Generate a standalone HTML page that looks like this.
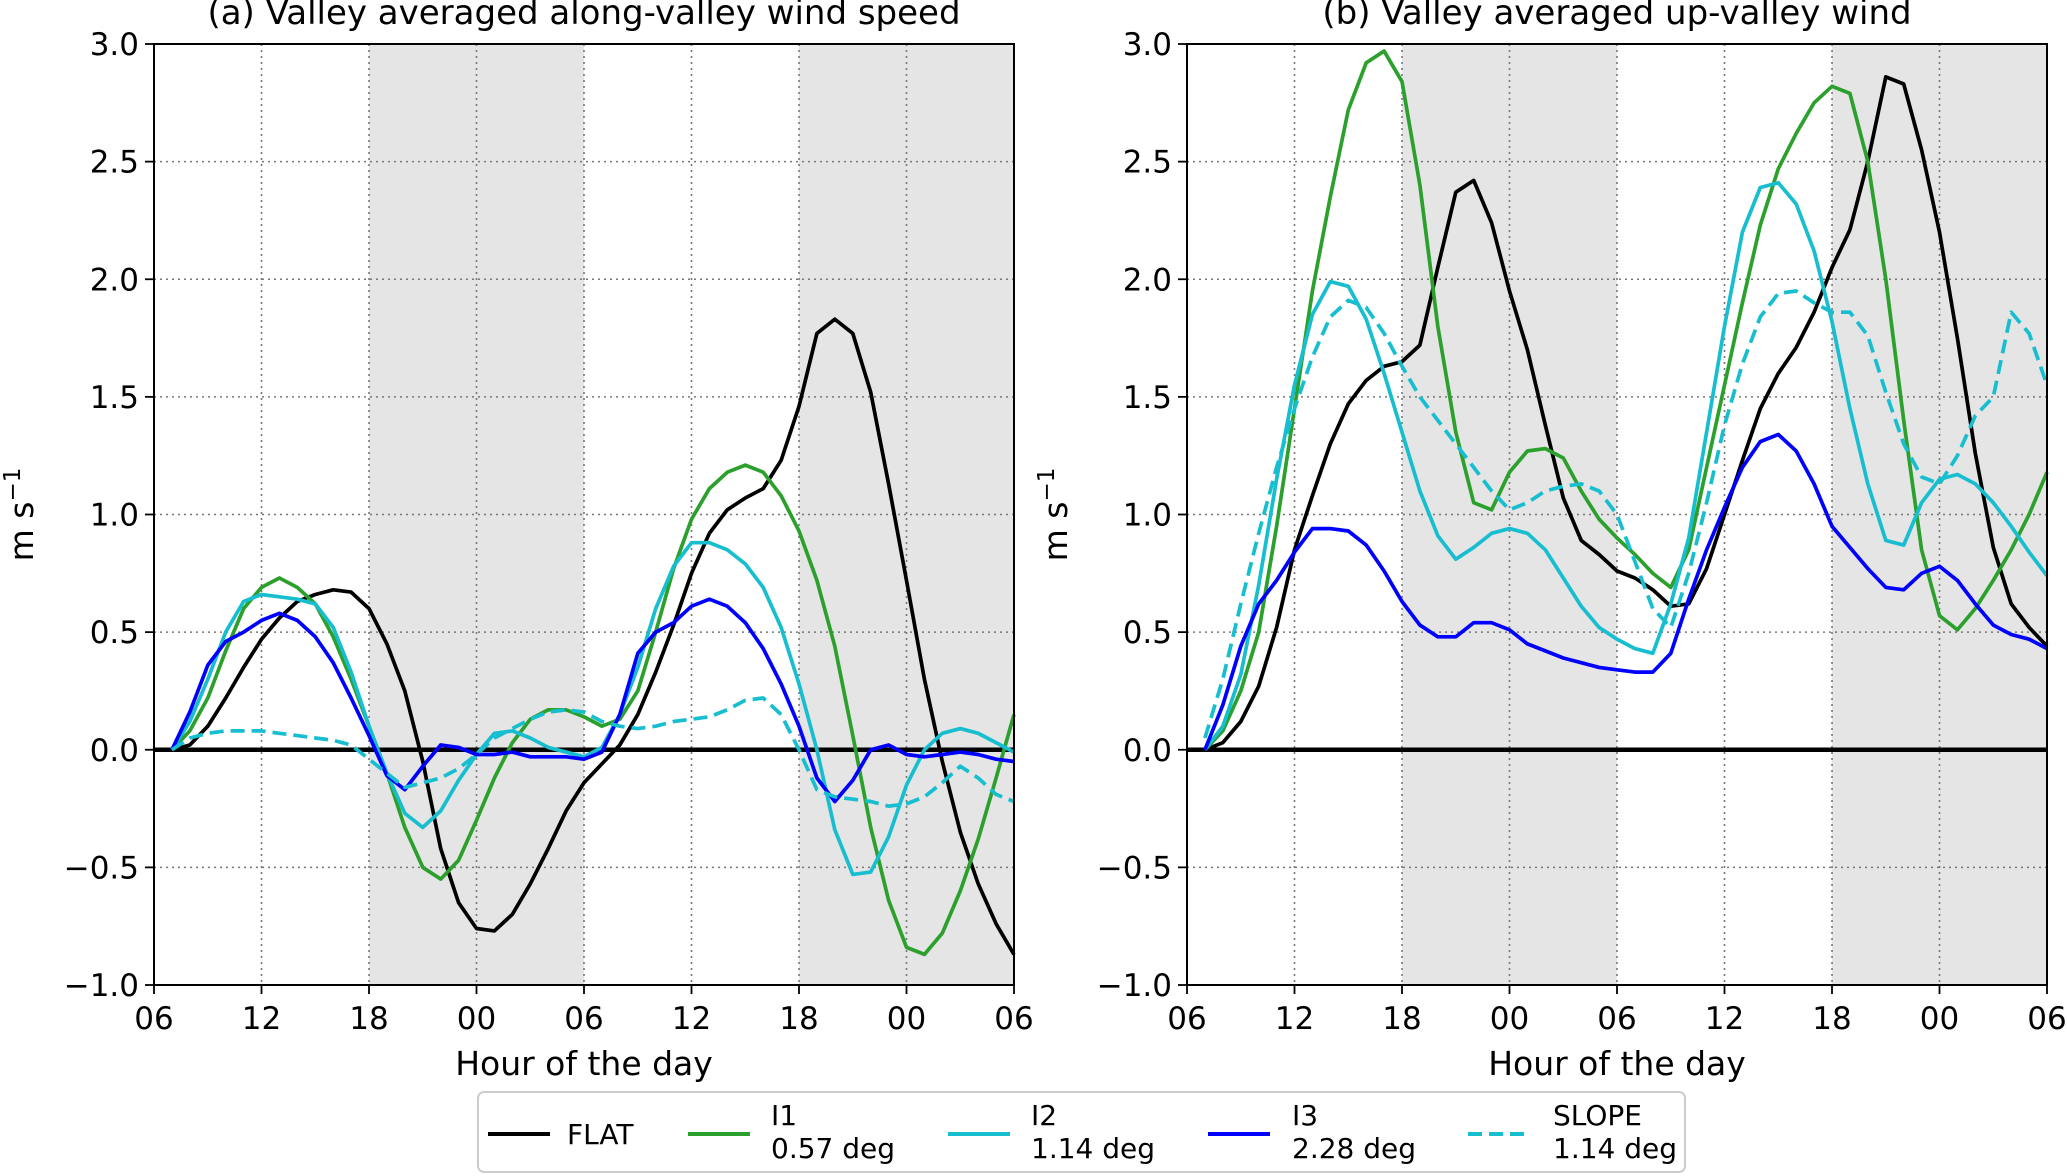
<!DOCTYPE html>
<html><head><meta charset="utf-8"><style>
html,body{margin:0;padding:0;background:#fff;}
svg{display:block;font-family:"DejaVu Sans","Liberation Sans",sans-serif;}
</style></head><body>
<svg id="chart" width="2067" height="1176" viewBox="0 0 2067 1176" xmlns="http://www.w3.org/2000/svg">
<g id="panelA"></g>
<g id="panelB"></g>
<g id="legend"></g>
</svg>
<script>
const hours = [1,2,3,4,5,6,7,8,9,10,11,12,13,14,15,16,17,18,19,20,21,22,23,24,25,26,27,28,29,30,31,32,33,34,35,36,37,38,39,40,41,42,43,44,45,46,47,48];
const xTickLabels = ["06","12","18","00","06","12","18","00","06"];
const yTickLabels = ["\u22121.0","\u22120.5","0.0","0.5","1.0","1.5","2.0","2.5","3.0"];
const yTickValues = [-1,-0.5,0,0.5,1,1.5,2,2.5,3];
const nightSpans = [[12,24],[36,48]];
const seriesNames = ["FLAT","I1","I2","I3","SLOPE"];
const seriesSub = ["","0.57 deg","1.14 deg","2.28 deg","1.14 deg"];

const aFLAT = [0,0.02,0.1,0.22,0.35,0.47,0.56,0.63,0.66,0.68,0.67,0.6,0.45,0.25,-0.05,-0.42,-0.65,-0.76,-0.77,-0.7,-0.57,-0.42,-0.26,-0.14,-0.06,0.02,0.15,0.33,0.53,0.75,0.92,1.02,1.07,1.11,1.23,1.46,1.77,1.83,1.77,1.52,1.13,0.72,0.3,-0.05,-0.35,-0.57,-0.74,-0.87];
const aI1 = [0,0.08,0.22,0.42,0.6,0.69,0.73,0.69,0.62,0.48,0.3,0.1,-0.1,-0.33,-0.5,-0.55,-0.47,-0.3,-0.12,0.03,0.13,0.17,0.17,0.14,0.1,0.13,0.25,0.5,0.77,0.98,1.11,1.18,1.21,1.18,1.08,0.93,0.72,0.44,0.06,-0.33,-0.64,-0.84,-0.87,-0.78,-0.6,-0.38,-0.12,0.15];
const aI2 = [0,0.12,0.3,0.5,0.63,0.66,0.65,0.64,0.62,0.52,0.33,0.1,-0.1,-0.27,-0.33,-0.26,-0.13,-0.02,0.07,0.08,0.05,0.01,-0.01,-0.03,0.01,0.15,0.35,0.6,0.78,0.88,0.88,0.85,0.79,0.69,0.52,0.28,0.0,-0.34,-0.53,-0.52,-0.37,-0.15,0.0,0.07,0.09,0.07,0.03,-0.01];
const aI3 = [0,0.16,0.36,0.46,0.5,0.55,0.58,0.55,0.48,0.37,0.22,0.06,-0.11,-0.17,-0.07,0.02,0.01,-0.02,-0.02,-0.01,-0.03,-0.03,-0.03,-0.04,-0.01,0.15,0.41,0.5,0.54,0.61,0.64,0.61,0.54,0.43,0.28,0.1,-0.12,-0.22,-0.13,0.0,0.02,-0.02,-0.03,-0.02,-0.01,-0.02,-0.04,-0.05];
const aSLOPE = [0,0.05,0.07,0.08,0.08,0.08,0.07,0.06,0.05,0.04,0.02,-0.04,-0.1,-0.16,-0.14,-0.12,-0.08,-0.02,0.05,0.09,0.13,0.16,0.17,0.16,0.12,0.1,0.09,0.1,0.12,0.13,0.14,0.17,0.21,0.22,0.15,0.0,-0.17,-0.2,-0.21,-0.22,-0.24,-0.23,-0.2,-0.14,-0.07,-0.12,-0.19,-0.22];

const bFLAT = [0,0.03,0.12,0.27,0.52,0.85,1.08,1.3,1.47,1.57,1.63,1.65,1.72,2.05,2.37,2.42,2.24,1.95,1.7,1.38,1.07,0.89,0.83,0.76,0.73,0.68,0.61,0.62,0.77,1.0,1.23,1.45,1.6,1.71,1.86,2.05,2.21,2.5,2.86,2.83,2.55,2.2,1.75,1.26,0.86,0.62,0.52,0.44];
const bI1 = [0,0.08,0.25,0.5,0.95,1.45,1.95,2.35,2.72,2.92,2.97,2.84,2.4,1.8,1.35,1.05,1.02,1.18,1.27,1.28,1.24,1.1,0.98,0.9,0.83,0.75,0.69,0.85,1.2,1.55,1.9,2.23,2.47,2.62,2.75,2.82,2.79,2.5,2.0,1.4,0.85,0.57,0.51,0.6,0.72,0.85,1.0,1.18];
const bI2 = [0,0.1,0.32,0.7,1.15,1.55,1.85,1.99,1.97,1.83,1.6,1.35,1.1,0.91,0.81,0.86,0.92,0.94,0.92,0.85,0.73,0.61,0.52,0.47,0.43,0.41,0.62,0.9,1.35,1.8,2.2,2.39,2.41,2.32,2.12,1.82,1.45,1.13,0.89,0.87,1.05,1.15,1.17,1.13,1.05,0.95,0.84,0.74];
const bI3 = [0,0.19,0.44,0.62,0.72,0.84,0.94,0.94,0.93,0.87,0.76,0.63,0.53,0.48,0.48,0.54,0.54,0.51,0.45,0.42,0.39,0.37,0.35,0.34,0.33,0.33,0.41,0.64,0.85,1.03,1.2,1.31,1.34,1.27,1.13,0.95,0.86,0.77,0.69,0.68,0.75,0.78,0.72,0.62,0.53,0.49,0.47,0.43];
const bSLOPE = [0.05,0.3,0.62,0.92,1.2,1.45,1.67,1.84,1.91,1.88,1.77,1.63,1.5,1.4,1.3,1.2,1.1,1.02,1.05,1.1,1.12,1.13,1.1,1.0,0.8,0.6,0.52,0.75,1.05,1.38,1.64,1.84,1.94,1.95,1.9,1.86,1.86,1.76,1.52,1.3,1.16,1.13,1.25,1.42,1.5,1.86,1.77,1.55];

const colors = ["#000000","#2ca02c","#17becf","#0000ff","#17becf"];
const dashes = ["","","","","14,7"];
const NS = "http://www.w3.org/2000/svg";
function mk(tag, attrs, parent){const e=document.createElementNS(NS,tag);for(const k in attrs)e.setAttribute(k,attrs[k]);parent.appendChild(e);return e;}

function drawPanel(g, x0, x1, y0, y1, title, series, key, ylabX){
  const xs = h => x0 + (h/48)*(x1-x0);
  const ys = v => y1 + (v+1)/4*(y0-y1);
  nightSpans.forEach((s,i)=>{
    const r = mk('rect',{x:xs(s[0]),y:y0,width:xs(s[1])-xs(s[0]),height:y1-y0,fill:'#e5e5e5'},g);
    
    
  });
  xTickLabels.forEach((lab,i)=>{
    const x = xs(i*6);
    if(i>0 && i<8){ const l=mk('line',{x1:x,x2:x,y1:y0,y2:y1,stroke:'#777','stroke-width':1.6,'stroke-dasharray':'2,4'},g);
        }
    mk('line',{x1:x,x2:x,y1:y1,y2:y1+9,stroke:'#000','stroke-width':1.8},g);
    const t=mk('text',{x:x,y:y1+44,'font-size':31,'text-anchor':'middle',fill:'#000'},g); t.textContent=lab;
     
  });
  yTickValues.forEach((v,i)=>{
    const y = ys(v);
    if(i>0 && i<8){ const l=mk('line',{x1:x0,x2:x1,y1:y,y2:y,stroke:'#777','stroke-width':1.6,'stroke-dasharray':'2,4'},g);
        }
    mk('line',{x1:x0-9,x2:x0,y1:y,y2:y,stroke:'#000','stroke-width':1.8},g);
    const t=mk('text',{x:x0-15,y:y+11,'font-size':31,'text-anchor':'end',fill:'#000'},g); t.textContent=yTickLabels[i];
     
  });
  const z=mk('line',{x1:x0,x2:x1,y1:ys(0),y2:ys(0),stroke:'#000','stroke-width':4.5},g);
   
  series.forEach((arr,si)=>{
    const d = arr.map((v,i)=>(i?'L':'M')+xs(hours[i]).toFixed(1)+','+ys(v).toFixed(1)).join(' ');
    const p=mk('path',{d:d,fill:'none',stroke:colors[si],'stroke-width':3.7,'stroke-linejoin':'round'},g);
    if(dashes[si]) p.setAttribute('stroke-dasharray',dashes[si]);
    
    
  });
  const fr=mk('rect',{x:x0,y:y0,width:x1-x0,height:y1-y0,fill:'none',stroke:'#000','stroke-width':2},g);
   
  const tt=mk('text',{x:(x0+x1)/2,y:24,'font-size':34,'text-anchor':'middle',fill:'#000'},g); tt.textContent=title;
   
  const xl=mk('text',{x:(x0+x1)/2,y:1075,'font-size':33,'text-anchor':'middle',fill:'#000'},g); xl.textContent='Hour of the day';
   
  const yl=mk('text',{x:0,y:0,'font-size':33,'text-anchor':'middle',fill:'#000',transform:'translate('+ylabX+','+((y0+y1)/2)+') rotate(-90)'},g);
  yl.innerHTML='m s<tspan dy="-13" font-size="23">\u22121</tspan>';
   
}
drawPanel(document.getElementById('panelA'),154,1014,44,985,'(a) Valley averaged along-valley wind speed',[aFLAT,aI1,aI2,aI3,aSLOPE],'a',33);
drawPanel(document.getElementById('panelB'),1187,2047,44,985,'(b) Valley averaged up-valley wind',[bFLAT,bI1,bI2,bI3,bSLOPE],'b',1067);

const lg=document.getElementById('legend');
const box=mk('rect',{x:478,y:1092,width:1207,height:80,rx:6,fill:'#fff',stroke:'#ccc','stroke-width':2},lg);
 
const lineX=[488,688,948,1208,1468], textX=[567,771,1031,1292,1553];
seriesNames.forEach((n,i)=>{
  const g=mk('g',{},lg);
  
  
  const l=mk('line',{x1:lineX[i],x2:lineX[i]+62,y1:1134,y2:1134,stroke:colors[i],'stroke-width':4},g);
  if(dashes[i]) l.setAttribute('stroke-dasharray',dashes[i]);
  if(seriesSub[i]){
    const t1=mk('text',{x:textX[i],y:1125,'font-size':28,fill:'#000'},g); t1.textContent=n;
    const t2=mk('text',{x:textX[i],y:1158,'font-size':28,fill:'#000'},g); t2.textContent=seriesSub[i];
  } else {
    const t=mk('text',{x:textX[i],y:1144,'font-size':28,fill:'#000'},g); t.textContent=n;
  }
});
</script>
</body></html>
